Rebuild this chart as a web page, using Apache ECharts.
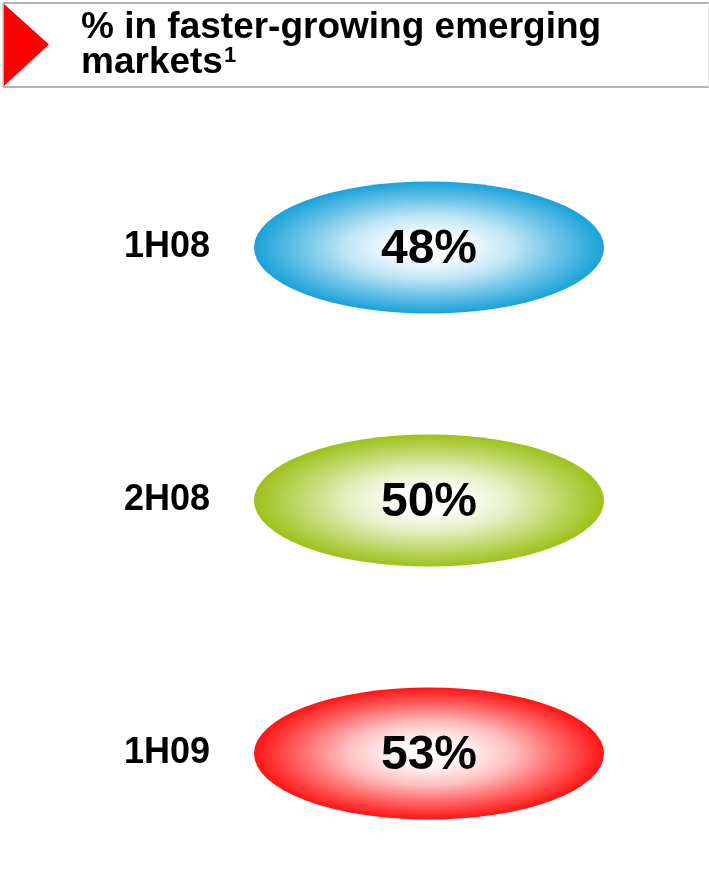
<!DOCTYPE html>
<html>
<head>
<meta charset="utf-8">
<style>
  html, body { margin: 0; padding: 0; background: #ffffff; }
  #chart { width: 709px; height: 874px; }
</style>
<script src="https://cdn.jsdelivr.net/npm/echarts@6/dist/echarts.min.js"></script>
</head>
<body>
<div id="chart"></div>
<script>
// Share of sales in faster-growing emerging markets, by half-year
const periods = ['1H08', '2H08', '1H09'];
const shares = [48, 50, 53];
const edgeColors = ['#19a2da', '#9ec11a', '#ff1414'];

const titleLine1 = '% in faster-growing emerging';
const titleLine2 = 'markets';
const titleNote = '1';

const FONT = 'Liberation Sans, Arial, sans-serif';

// blend a hex colour toward white; t = 0 gives white, t = 1 the full colour
function tint(hex, t) {
  const n = parseInt(hex.slice(1), 16);
  const r = (n >> 16) & 255, g = (n >> 8) & 255, b = n & 255;
  const mix = c => Math.round(255 + (c - 255) * t);
  return 'rgb(' + mix(r) + ',' + mix(g) + ',' + mix(b) + ')';
}

function glow(hex) {
  return {
    type: 'radial', x: 0.5, y: 0.5, r: 0.5,
    colorStops: [
      { offset: 0.0, color: tint(hex, 0.0) },
      { offset: 0.22, color: tint(hex, 0.05) },
      { offset: 0.48, color: tint(hex, 0.28) },
      { offset: 0.72, color: tint(hex, 0.62) },
      { offset: 1.0, color: tint(hex, 1.0) }
    ]
  };
}

const chart = echarts.init(document.getElementById('chart'), null, { renderer: 'canvas' });

chart.setOption({
  backgroundColor: '#ffffff',
  animation: false,
  grid: { left: 254, right: 105, top: 121, height: 759, outerBoundsMode: 'none', containLabel: false },
  xAxis: { type: 'value', min: 0, max: 100, show: false },
  yAxis: {
    type: 'category',
    data: periods,
    inverse: true,
    axisLine: { show: false },
    axisTick: { show: false },
    splitLine: { show: false },
    axisLabel: {
      margin: 44,
      fontFamily: FONT,
      fontWeight: 'bold',
      fontSize: 36,
      color: '#000000'
    }
  },
  graphic: [
    // header frame
    { type: 'line', shape: { x1: 3, y1: 3, x2: 709, y2: 3 }, style: { stroke: '#b4b4b4', lineWidth: 2 } },
    { type: 'line', shape: { x1: 3, y1: 87, x2: 709, y2: 87 }, style: { stroke: '#b4b4b4', lineWidth: 2 } },
    { type: 'line', shape: { x1: 3.5, y1: 3, x2: 3.5, y2: 87 }, style: { stroke: '#b4b4b4', lineWidth: 2 } },
    { type: 'line', shape: { x1: 708.5, y1: 3, x2: 708.5, y2: 87 }, style: { stroke: '#e2e2e2', lineWidth: 1 } },
    // red pointer
    { type: 'polygon', shape: { points: [[4, 4], [49, 44.5], [4, 86]] }, style: { fill: '#ff0000' } },
    {
      type: 'text', left: 81, top: 9,
      style: {
        text: '{t|' + titleLine1 + '}\n{t|' + titleLine2 + '}{s|' + titleNote + '}',
        rich: {
          t: { fontFamily: FONT, fontWeight: 'bold', fontSize: 37, lineHeight: 35, fill: '#000000' },
          s: { fontFamily: FONT, fontWeight: 'bold', fontSize: 22, lineHeight: 35, fill: '#000000', verticalAlign: 'top', padding: [0, 0, 12, 1] }
        }
      }
    }
  ],
  series: [{
    type: 'custom',
    coordinateSystem: 'cartesian2d',
    data: shares.map((v, i) => [v, i]),
    renderItem: function (params, api) {
      const idx = params.dataIndex;
      const cs = params.coordSys;
      const cy = api.coord([0, api.value(1)])[1];
      const cx = cs.x + cs.width / 2;
      const ry = 66;
      const rx = cs.width / 2;
      return {
        type: 'group',
        children: [
          {
            type: 'circle',
            x: cx, y: cy,
            scaleX: rx / ry, scaleY: 1,
            shape: { cx: 0, cy: 0, r: ry },
            style: { fill: glow(edgeColors[idx]) }
          },
          {
            type: 'text',
            x: cx, y: cy + 2,
            style: {
              text: api.value(0) + '%',
              fontFamily: FONT,
              fontWeight: 'bold',
              fontSize: 48,
              fill: '#000000',
              align: 'center',
              verticalAlign: 'middle'
            }
          }
        ]
      };
    }
  }]
});
</script>
</body>
</html>
